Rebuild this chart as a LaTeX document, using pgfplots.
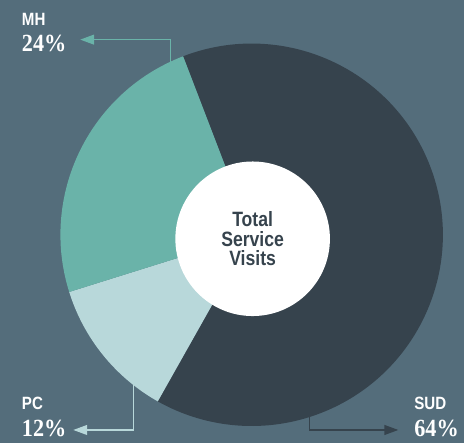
\documentclass[border=0pt]{standalone}
\usepackage{fontspec}
\usepackage{pgfplots}
\usepackage{pgfplotstable}
\pgfplotsset{compat=1.18}
\usetikzlibrary{arrows.meta}
\setmainfont{Liberation Sans}
\newfontfamily\condfont[FakeStretch=0.85]{Liberation Sans}
\newfontfamily\numfont[FakeStretch=0.9]{Liberation Serif}
\definecolor{bgc}{HTML}{546D7B}
\definecolor{sudc}{HTML}{36434D}
\definecolor{mhc}{HTML}{6AB3A9}
\definecolor{pcc}{HTML}{B8D8DA}

\pgfplotstableread{
label value
SUD 64
PC 12
MH 24
}\piedata

\begin{document}
\begin{tikzpicture}
\pgfplotstablegetelem{0}{value}\of\piedata \let\vSUD\pgfplotsretval
\pgfplotstablegetelem{1}{value}\of\piedata \let\vPC\pgfplotsretval
\pgfplotstablegetelem{2}{value}\of\piedata \let\vMH\pgfplotsretval
% slices go clockwise from the top
\pgfmathsetmacro{\aA}{111}
\pgfmathsetmacro{\aB}{\aA-3.6*\vSUD}
\pgfmathsetmacro{\aC}{\aB-3.6*\vPC}
\pgfmathsetmacro{\aD}{\aC-3.6*\vMH}
\begin{axis}[scale only axis,width=468bp,height=447bp,
 xmin=0,xmax=468,ymin=0,ymax=447,hide axis,clip=false]
\fill[bgc] (axis cs:0,0) rectangle (axis cs:468,447);
% leader lines
\draw[mhc,line width=1.2bp,-{Triangle[length=14bp,width=10bp]}] (axis cs:172,375) -- (axis cs:172,407) -- (axis cs:81,407);
\draw[pcc,line width=1.2bp,-{Triangle[length=14bp,width=10bp]}] (axis cs:135,75) -- (axis cs:135,13) -- (axis cs:74,13);
\draw[sudc,line width=1.2bp,-{Triangle[length=14bp,width=10bp]}] (axis cs:312,47) -- (axis cs:312,13) -- (axis cs:402,13);
% slices
\fill[sudc] (axis cs:254,210) -- ++(\aA:193bp) arc[start angle=\aA,end angle=\aB,radius=193bp] -- cycle;
\fill[pcc] (axis cs:254,210) -- ++(\aB:193bp) arc[start angle=\aB,end angle=\aC,radius=193bp] -- cycle;
\fill[mhc] (axis cs:254,210) -- ++(\aC:193bp) arc[start angle=\aC,end angle=\aD,radius=193bp] -- cycle;
\fill[white] (axis cs:255,206) circle[radius=78bp];
\node[align=center,text=sudc,font=\condfont\bfseries\fontsize{21}{20}\selectfont] at (axis cs:255,206) {Total\\Service\\Visits};
% labels
\node[anchor=base west,inner sep=0,text=white,font=\condfont\bfseries\fontsize{18}{20}\selectfont] at (axis cs:22,421) {MH};
\node[anchor=base west,inner sep=0,text=white,font=\numfont\bfseries\fontsize{25}{26}\selectfont] at (axis cs:22,395) {24\%};
\node[anchor=base west,inner sep=0,text=white,font=\condfont\bfseries\fontsize{18}{20}\selectfont] at (axis cs:22,34) {PC};
\node[anchor=base west,inner sep=0,text=white,font=\numfont\bfseries\fontsize{25}{26}\selectfont] at (axis cs:22,6) {12\%};
\node[anchor=base west,inner sep=0,text=white,font=\condfont\bfseries\fontsize{18}{20}\selectfont] at (axis cs:418,34) {SUD};
\node[anchor=base west,inner sep=0,text=white,font=\numfont\bfseries\fontsize{25}{26}\selectfont] at (axis cs:418,6) {64\%};
\end{axis}
\end{tikzpicture}
\end{document}
